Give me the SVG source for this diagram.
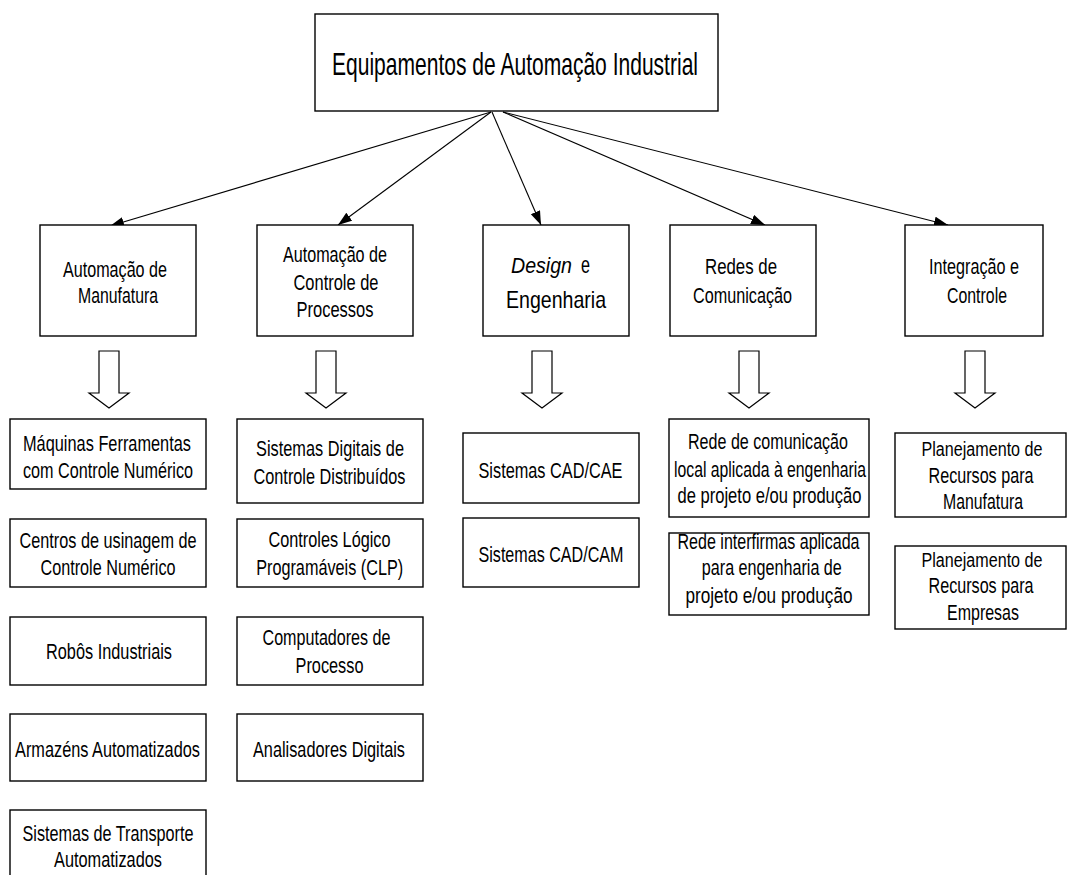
<svg xmlns="http://www.w3.org/2000/svg" width="1070" height="875" viewBox="0 0 1070 875">
<defs>
<marker id="ah" markerUnits="userSpaceOnUse" markerWidth="16" markerHeight="12" refX="14" refY="5" orient="auto">
<path d="M0,0 L14,5 L0,10 z" fill="#000"/>
</marker>
<style>
rect.b{fill:#fff;stroke:#000;stroke-width:1.4}
text{font-family:"Liberation Sans",Arial,sans-serif;fill:#000;text-anchor:middle}
.t2{font-size:22px}
.t3{font-size:22px}
.c{fill:none;stroke:#000;stroke-width:1.1;marker-end:url(#ah)}
.oa{fill:#fff;stroke:#000;stroke-width:1.2;stroke-linejoin:miter}
</style>
</defs>
<rect width="1070" height="875" fill="#fff"/>

<g id="connectors">
<line class="c" x1="491" y1="112" x2="110" y2="226"/>
<line class="c" x1="491" y1="112" x2="338" y2="225"/>
<line class="c" x1="492" y1="112" x2="541" y2="225"/>
<line class="c" x1="503" y1="112" x2="765" y2="225"/>
<line class="c" x1="503" y1="112" x2="948" y2="225"/>
<path class="oa" d="M99,351 H119 V393 H129 L109,408 L89,393 H99 Z"/>
<path class="oa" d="M316,351 H336 V393 H346 L326,408 L306,393 H316 Z"/>
<path class="oa" d="M532,351 H552 V393 H562 L542,408 L522,393 H532 Z"/>
<path class="oa" d="M739,351 H759 V393 H769 L749,408 L729,393 H739 Z"/>
<path class="oa" d="M965,351 H985 V393 H995 L975,408 L955,393 H965 Z"/>
</g>

<g id="root">
<rect class="b" x="315" y="14" width="403" height="97"/>
<text x="515" y="75" font-size="32" textLength="366" lengthAdjust="spacingAndGlyphs">Equipamentos de Automação Industrial</text>
</g>

<g id="n-manufatura">
<rect class="b" x="40" y="225" width="156" height="111"/>
<text class="t2" x="115" y="277" textLength="104" lengthAdjust="spacingAndGlyphs">Automação de</text>
<text class="t2" x="118" y="303" textLength="80" lengthAdjust="spacingAndGlyphs">Manufatura</text>
</g>
<g id="n-processos">
<rect class="b" x="257" y="225" width="156" height="111"/>
<text class="t2" x="335" y="262" textLength="104" lengthAdjust="spacingAndGlyphs">Automação de</text>
<text class="t2" x="336" y="290" textLength="85" lengthAdjust="spacingAndGlyphs">Controle de</text>
<text class="t2" x="335" y="317" textLength="77" lengthAdjust="spacingAndGlyphs">Processos</text>
</g>
<g id="n-design">
<rect class="b" x="483" y="225" width="146" height="111"/>
<text x="511" y="273" font-size="22" font-style="italic" style="text-anchor:start" textLength="61" lengthAdjust="spacingAndGlyphs">Design</text>
<text x="581" y="273" font-size="24" style="text-anchor:start" textLength="9" lengthAdjust="spacingAndGlyphs">e</text>
<text x="556" y="308" font-size="24" textLength="100" lengthAdjust="spacingAndGlyphs">Engenharia</text>
</g>
<g id="n-redes">
<rect class="b" x="670" y="225" width="146" height="111"/>
<text class="t2" x="741" y="274" textLength="72" lengthAdjust="spacingAndGlyphs">Redes de</text>
<text class="t2" x="742.5" y="303" textLength="99" lengthAdjust="spacingAndGlyphs">Comunicação</text>
</g>
<g id="n-integracao">
<rect class="b" x="905" y="225" width="138" height="111"/>
<text class="t2" x="974" y="274" textLength="90" lengthAdjust="spacingAndGlyphs">Integração e</text>
<text class="t2" x="977" y="303" textLength="60" lengthAdjust="spacingAndGlyphs">Controle</text>
</g>

<g id="m1">
<rect class="b" x="10" y="419" width="196" height="70"/>
<text class="t3" x="107" y="451" textLength="168" lengthAdjust="spacingAndGlyphs">Máquinas Ferramentas</text>
<text class="t3" x="108" y="478" textLength="170" lengthAdjust="spacingAndGlyphs">com Controle Numérico</text>
</g>
<g id="m2">
<rect class="b" x="10" y="519" width="196" height="68"/>
<text class="t3" x="108" y="548" textLength="177" lengthAdjust="spacingAndGlyphs">Centros de usinagem de</text>
<text class="t3" x="108" y="575" textLength="135" lengthAdjust="spacingAndGlyphs">Controle Numérico</text>
</g>
<g id="m3">
<rect class="b" x="10" y="617" width="196" height="68"/>
<text class="t3" x="109" y="659" textLength="126" lengthAdjust="spacingAndGlyphs">Robôs Industriais</text>
</g>
<g id="m4">
<rect class="b" x="10" y="714" width="196" height="67"/>
<text class="t3" x="107.5" y="757" textLength="185" lengthAdjust="spacingAndGlyphs">Armazéns Automatizados</text>
</g>
<g id="m5">
<rect class="b" x="10" y="810" width="196" height="75"/>
<text class="t3" x="108" y="841" textLength="171" lengthAdjust="spacingAndGlyphs">Sistemas de Transporte</text>
<text class="t3" x="108" y="867" textLength="108" lengthAdjust="spacingAndGlyphs">Automatizados</text>
</g>

<g id="p1">
<rect class="b" x="237" y="419" width="186" height="84"/>
<text class="t3" x="330" y="456" textLength="148" lengthAdjust="spacingAndGlyphs">Sistemas Digitais de</text>
<text class="t3" x="329.5" y="484" textLength="152" lengthAdjust="spacingAndGlyphs">Controle Distribuídos</text>
</g>
<g id="p2">
<rect class="b" x="237" y="519" width="186" height="68"/>
<text class="t3" x="329.5" y="547" textLength="122" lengthAdjust="spacingAndGlyphs">Controles Lógico</text>
<text class="t3" x="329.7" y="575" textLength="147" lengthAdjust="spacingAndGlyphs">Programáveis (CLP)</text>
</g>
<g id="p3">
<rect class="b" x="237" y="617" width="186" height="68"/>
<text class="t3" x="326.5" y="645" textLength="128" lengthAdjust="spacingAndGlyphs">Computadores de</text>
<text class="t3" x="329.5" y="673" textLength="68" lengthAdjust="spacingAndGlyphs">Processo</text>
</g>
<g id="p4">
<rect class="b" x="237" y="714" width="186" height="67"/>
<text class="t3" x="329" y="757" textLength="152" lengthAdjust="spacingAndGlyphs">Analisadores Digitais</text>
</g>

<g id="d1">
<rect class="b" x="463" y="433" width="176" height="70"/>
<text class="t3" x="550.5" y="478" textLength="144" lengthAdjust="spacingAndGlyphs">Sistemas CAD/CAE</text>
</g>
<g id="d2">
<rect class="b" x="463" y="518" width="176" height="69"/>
<text class="t3" x="551" y="562" textLength="145" lengthAdjust="spacingAndGlyphs">Sistemas CAD/CAM</text>
</g>

<g id="r1">
<rect class="b" x="669" y="419" width="200" height="98"/>
<text class="t3" x="768" y="449" textLength="160" lengthAdjust="spacingAndGlyphs">Rede de comunicação</text>
<text class="t3" x="770" y="477" textLength="192" lengthAdjust="spacingAndGlyphs">local aplicada à engenharia</text>
<text class="t3" x="769.5" y="503" textLength="184" lengthAdjust="spacingAndGlyphs">de projeto e/ou produção</text>
</g>
<g id="r2">
<rect class="b" x="669" y="533" width="200" height="82"/>
<text class="t3" x="768.5" y="549" textLength="182" lengthAdjust="spacingAndGlyphs">Rede interfirmas aplicada</text>
<text class="t3" x="771.8" y="575" textLength="140" lengthAdjust="spacingAndGlyphs">para engenharia de</text>
<text class="t3" x="769" y="603" textLength="167" lengthAdjust="spacingAndGlyphs">projeto e/ou produção</text>
</g>

<g id="i1">
<rect class="b" x="895" y="433" width="171" height="84"/>
<text x="982" y="456" font-size="20" textLength="121" lengthAdjust="spacingAndGlyphs">Planejamento de</text>
<text class="t3" x="981" y="483" textLength="105" lengthAdjust="spacingAndGlyphs">Recursos para</text>
<text class="t3" x="983" y="509" textLength="80" lengthAdjust="spacingAndGlyphs">Manufatura</text>
</g>
<g id="i2">
<rect class="b" x="895" y="546" width="171" height="83"/>
<text x="982" y="567" font-size="20" textLength="121" lengthAdjust="spacingAndGlyphs">Planejamento de</text>
<text class="t3" x="981" y="593" textLength="105" lengthAdjust="spacingAndGlyphs">Recursos para</text>
<text class="t3" x="983" y="620" textLength="72" lengthAdjust="spacingAndGlyphs">Empresas</text>
</g>
</svg>
